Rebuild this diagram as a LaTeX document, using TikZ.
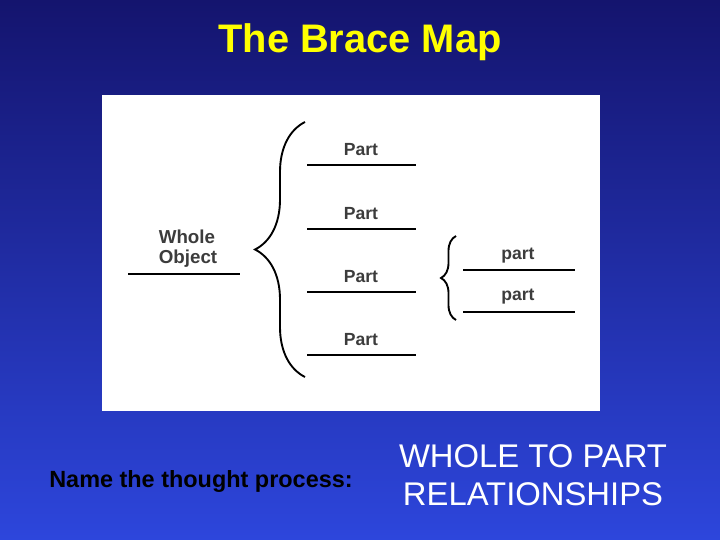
\documentclass[tikz,border=0pt]{standalone}
\usepackage{fontspec}
\setmainfont{Liberation Sans}
\usetikzlibrary{decorations.pathreplacing}
\definecolor{bgtop}{RGB}{20,20,110}
\definecolor{bgbot}{RGB}{45,70,220}
\definecolor{titleyellow}{RGB}{255,255,0}
\definecolor{labelgray}{RGB}{60,60,60}
\tikzset{%
  partline/.style={line width=1.3pt},
  partlabel/.style={font=\bfseries\fontsize{15}{15}\selectfont,text=labelgray,anchor=base,inner sep=0pt},
  bigbrace/.style={decorate,line width=1.6pt,decoration={brace,amplitude=#1}}
}
\begin{document}
\begin{tikzpicture}[x=0.03cm,y=-0.03cm]
\shade[top color=bgtop,bottom color=bgbot] (0,0) rectangle (720,540);
\useasboundingbox (0,0) rectangle (720,540);
\node[text=titleyellow,font=\bfseries\fontsize{34}{34}\selectfont] (title) at (360,42) {The Brace Map};
\fill[white] (102,95) rectangle (600,411);

% whole
\node[font=\bfseries\fontsize{16}{17}\selectfont,text=labelgray,align=left] (whole) at (188,249) {Whole\\Object};
\draw[line width=2pt] (128,274) -- (240,274);

% big brace and parts
\coordinate (bb) at (305,377);
\coordinate (bt) at (305,122);
\draw[bigbrace=1.5cm] (bb) -- (bt);
\foreach \y/\n in {165/a,229/b,292/c,355/d} {
  \draw[partline] (307,\y) -- (416,\y);
  \node[partlabel] (part\n) at (361,\y-9) {Part};
}

% small brace and sub parts
\coordinate (sb) at (456,320);
\coordinate (st) at (456,236);
\draw[bigbrace=0.45cm] (sb) -- (st);
\draw[line width=2pt] (463,270) -- (575,270);
\draw[partline] (463,312) -- (575,312);
\node[partlabel] (subA) at (518,260) {part};
\node[partlabel] (subB) at (518,301) {part};

% question and answer
\node[font=\bfseries\fontsize{20}{22}\selectfont] (question) at (201,481) {Name the thought process:};
\node[text=white,font=\fontsize{28}{32}\selectfont,align=center] (answer) at (533,475) {WHOLE TO PART\\RELATIONSHIPS};
\end{tikzpicture}
\end{document}
